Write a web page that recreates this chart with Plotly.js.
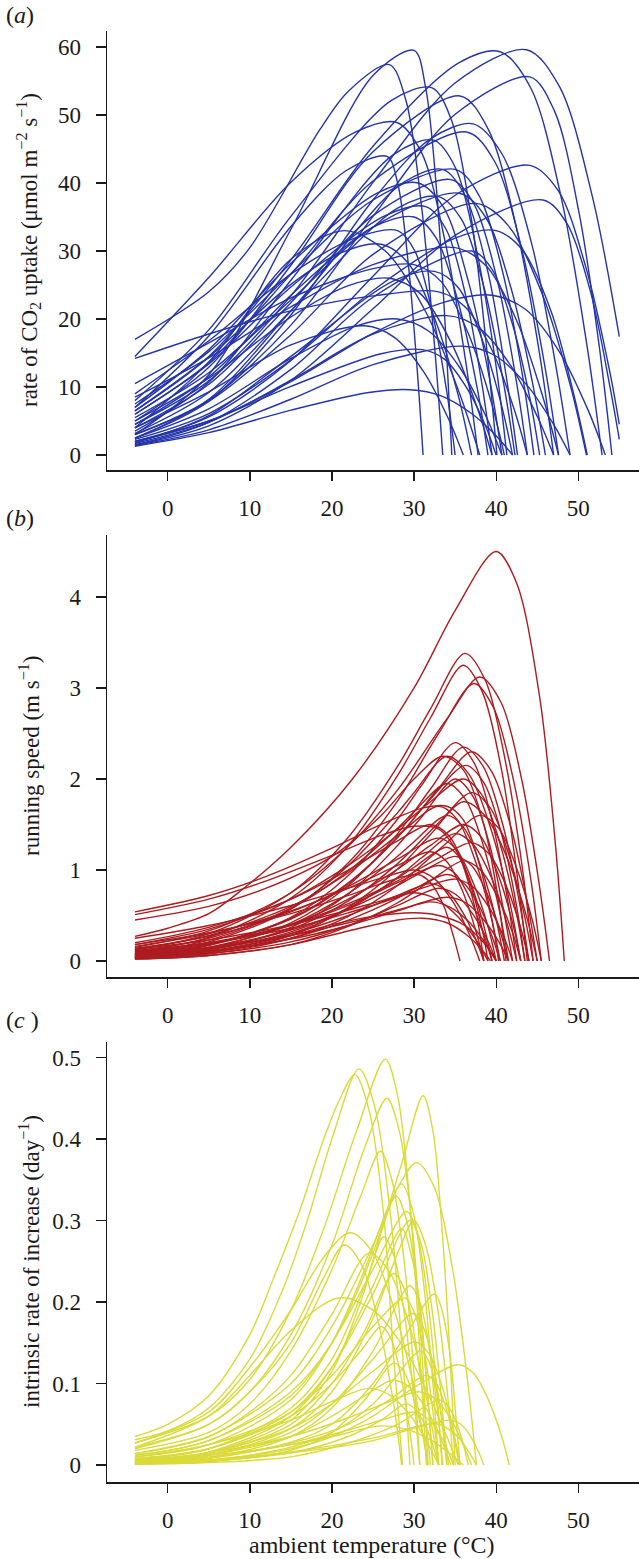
<!DOCTYPE html>
<html>
<head>
<meta charset="utf-8">
<script src="https://cdn.plot.ly/plotly-3.0.1.min.js"></script>
<style>html,body{margin:0;padding:0;background:#fff}#chart{width:639px;height:1559px}</style>
</head>
<body>
<div id="chart"></div>
<script>
// Temperature ticks (°C)
const tempTicks = [0, 10, 20, 30, 40, 50];
const co2Ticks = [0, 10, 20, 30, 40, 50, 60];
const speedTicks = [0, 1, 2, 3, 4];
const rateTicks = [0, 0.1, 0.2, 0.3, 0.4, 0.5];

// (a) rate of CO2 uptake: each curve is a list of [temperature, value]
const co2Uptake = [
  [[-4,3],[5,11.8],[15,33.2],[25,55.8],[30,59.5],[31.4,54.1],[32.8,38.1],[33.9,16.7],[34.6,0]],
  [[-4,17],[5,24],[10,30.5],[18.5,47.8],[22,53.5],[27,57.4],[29,52.2],[30.9,36.7],[32.5,16],[33.5,0]],
  [[-4,6.5],[5,14.5],[15,28.7],[25,45.4],[35.5,57.7],[40.5,59.3],[44.2,54],[47.9,38],[51,16.6],[52.9,0]],
  [[-4,4.5],[5,10.9],[15,23.4],[25,40.1],[35,54.7],[43.7,59.6],[47.7,54.2],[51.7,38.1],[55,17.4]],
  [[-4,3],[5,8.1],[15,19.1],[25,35.1],[35,50.1],[44.1,55.6],[47.1,50.6],[50.1,35.6],[52.6,15.6],[54.1,0]],
  [[-4,8],[5,18.4],[15,35.1],[27.2,52.1],[32.2,54],[34.6,49.1],[37,34.6],[38.9,15.1],[40.1,0]],
  [[-4,5],[5,12.9],[15,27.9],[25,44.6],[35.6,52.8],[39,48],[42.4,33.8],[45.3,14.8],[47,0]],
  [[-4,14.5],[5,26.1],[15,40.1],[22.9,47.5],[27.9,48.9],[30.9,44.5],[33.8,31.3],[36.3,13.7],[37.8,0]],
  [[-4,2.5],[5,7.9],[15,20.6],[25,37.5],[32,46.5],[37.2,48.7],[40.7,44.3],[44.3,31.2],[47.2,13.6],[49,0]],
  [[-4,6],[5,13.6],[15,26.6],[25,40.3],[36.4,47.5],[39.8,43.2],[43.1,30.4],[45.9,13.3],[47.6,0]],
  [[-4,3.5],[5,10.7],[15,25.7],[27.4,44.1],[32.4,46.3],[35.1,42.1],[37.7,29.6],[40,13],[41.3,0]],
  [[-4,7],[5,17.5],[15,33.6],[21.7,41.8],[26.7,43.9],[28,40],[29.3,28.1],[30.4,12.3],[31.1,0]],
  [[-4,2],[5,5.6],[15,13.9],[25,26.3],[35,38.2],[44.1,42.6],[47.6,38.8],[51,27.3],[53.9,11.9],[55,4.5]],
  [[-4,1.5],[5,4.3],[15,11],[25,21.5],[35,32.3],[45.7,37.5],[48.6,34.1],[51.5,24],[53.9,9.8],[55,2.3]],
  [[-4,4],[5,13.7],[15,28.8],[21.5,33],[26.5,30],[31.4,21.1],[35.5,9.2],[38,0]],
  [[-4,2.5],[5,8.2],[15,21.2],[28.5,39.9],[33.5,42],[36.2,38.2],[39,26.9],[41.2,11.8],[42.6,0]],
  [[-4,4],[5,10.4],[15,22.4],[25,35.2],[34.5,40.5],[37.3,36.9],[40.1,25.9],[42.4,11.3],[43.8,0]],
  [[-4,5.5],[5,12.1],[15,22.8],[25,33.5],[35.5,38.5],[38.7,35],[41.8,24.6],[44.4,10.8],[46,0]],
  [[-4,6],[5,13.4],[15,24.7],[26.5,35.2],[31.5,36.5],[33.9,33.2],[36.3,23.4],[38.3,10.2],[39.5,0]],
  [[-4,3],[5,7.9],[15,17.7],[25,29.5],[37.5,37],[41.5,33.7],[45.6,23.7],[49,10.4],[51,0]],
  [[-4,8.5],[5,14.3],[15,21.8],[25,28],[35,30.5],[38.8,27.8],[42.6,19.5],[45.7,8.5],[47.6,0]],
  [[-4,10.5],[5,16.5],[15,23.1],[25,27.4],[30,28],[33.3,25.5],[36.6,17.9],[39.4,7.8],[41,0]],
  [[-4,14.2],[5,17.8],[15,21.2],[25,23.4],[33,24],[36.2,21.8],[39.5,15.4],[42.2,6.7],[43.8,0]],
  [[-4,2.5],[5,6.8],[15,14.2],[23,19],[28,20],[31.8,18.2],[35.6,12.8],[38.8,5.6],[40.7,0]],
  [[-4,1.3],[5,3.3],[15,6.6],[24.5,9.2],[29.5,9.6],[33.3,8.7],[37,6.1],[40.1,2.7],[42,0]],
  [[-4,2],[5,5],[15,10.1],[26,14.9],[31,15.5],[33.7,14.1],[36.4,9.9],[38.7,4.3],[40,0]],
  [[-4,1.8],[5,5.8],[15,14.5],[27.5,25.6],[32.5,27],[35.4,24.6],[38.2,17.3],[40.6,7.6],[42,0]],
  [[-4,1.5],[5,4.8],[15,12.6],[25,23.2],[37,30],[39.5,27.3],[42,19.2],[44.1,8.4],[45.3,0]],
  [[-4,2],[5,5],[15,10.8],[25,17.9],[34,22.6],[39.5,23.5],[43.6,21.4],[47.8,15],[51.2,6.6],[53.3,0]],
  [[-4,2.3],[5,6.1],[15,14],[25,24.2],[35,31.9],[40,33],[43.3,30],[46.7,21.1],[49.4,9.2],[51.1,0]],
  [[-4,4],[5,9.3],[15,16.2],[24,19],[27.6,17.3],[31.2,12.2],[34.2,5.3],[36,0]],
  [[-4,4.5],[5,11.5],[15,23.5],[25,33.5],[30,35],[32.7,31.9],[35.4,22.4],[37.7,9.8],[39,0]],
  [[-4,5],[5,11.3],[15,20.3],[22,24.9],[27,26],[30.8,23.7],[34.5,16.6],[37.6,7.3],[39.5,0]],
  [[-4,6.5],[5,14.4],[15,25.1],[21,29.7],[26,31],[29.3,28.2],[32.6,19.8],[35.4,8.7],[37,0]],
  [[-4,7],[5,15.5],[15,28.2],[25.5,38.5],[30.5,40],[33.6,36.4],[36.6,25.6],[39.2,11.2],[40.7,0]],
  [[-4,3.2],[5,9.2],[15,21.2],[28,36.3],[33,38],[35.8,34.6],[38.6,24.3],[40.9,10.6],[42.3,0]],
  [[-4,1.7],[5,4.8],[15,11],[25,17.8],[34,20.5],[37.9,18.7],[41.8,13.1],[45,5.7],[47,0]],
  [[-4,1.4],[5,3.7],[15,8.2],[25,13.3],[36,16],[39.9,14.6],[43.8,10.2],[47,4.5],[49,0]],
  [[-4,9],[5,16.8],[15,26.6],[23,32],[28,33],[30.1,30],[32.2,21.1],[34,9.2],[35,0]],
  [[-4,7.5],[5,15.2],[15,26.7],[25,37.5],[35,42],[37.9,38.2],[40.8,26.9],[43.2,11.8],[44.6,0]]
];

// (b) running speed (m s-1)
const runningSpeed = [
  [[-4,.27],[0,.36],[5,.52],[9,.78],[15,1.25],[22.5,2.0],[30,3.0],[35,3.85],[40,4.5],[42.5,4.15],[45.3,2.9],[47.2,1.3],[48.3,0]],
  [[-4,.12],[5,.30],[15,.75],[22,1.36],[28,2.14],[32,2.77],[36.2,3.38],[38.7,3.08],[41.2,2.16],[43.3,.95],[44.5,0]],
  [[-4,.1],[5,.26],[15,.69],[22,1.27],[28,2.04],[32,2.67],[36,3.25],[38.3,2.96],[40.7,2.08],[42.6,.91],[43.8,0]],
  [[-4,.15],[5,.33],[15,.75],[22,1.26],[28,1.88],[34,2.66],[38,3.12],[40.6,2.84],[43.1,2.0],[45.2,.87],[46.5,0]],
  [[-4,.08],[5,.21],[15,.57],[22,1.08],[28,1.76],[33,2.5],[37.3,3.05],[39.7,2.78],[42.2,1.95],[44.3,.85],[45.5,0]],
  [[-4,.06],[5,.17],[15,.48],[22,.94],[28,1.56],[31,1.94],[35,2.4],[37.3,2.18],[39.5,1.54],[41.4,.67],[42.5,0]],
  [[-4,.05],[5,.14],[15,.42],[22,.83],[28,1.4],[32,1.89],[36,2.35],[38.4,2.14],[40.8,1.5],[42.8,.66],[44,0]],
  [[-4,.09],[5,.23],[15,.58],[22,1.05],[28,1.63],[30,1.85],[34,2.25],[36.7,2.05],[39.4,1.44],[41.7,.63],[43,0]],
  [[-4,.07],[5,.18],[15,.47],[22,.86],[28,1.36],[32,1.78],[36.3,2.15],[38.5,1.96],[40.7,1.38],[42.5,.6],[43.5,0]],
  [[-4,.04],[5,.12],[15,.37],[22,.74],[28,1.27],[31,1.59],[35,2.0],[37.1,1.82],[39.2,1.28],[40.9,.56],[42,0]],
  [[-4,.11],[5,.25],[15,.58],[22,.99],[28,1.46],[30,1.64],[34,1.95],[36.3,1.77],[38.5,1.25],[40.4,.55],[41.5,0]],
  [[-4,.05],[5,.13],[15,.35],[22,.66],[28,1.07],[33,1.52],[37,1.85],[39.3,1.68],[41.5,1.18],[43.4,.52],[44.5,0]],
  [[-4,.03],[5,.09],[15,.28],[22,.59],[28,1.01],[32,1.39],[36,1.75],[38.7,1.59],[41.4,1.12],[43.7,.49],[45,0]],
  [[-4,.13],[5,.28],[15,.6],[22,.97],[28,1.38],[33,1.7],[35.3,1.55],[37.5,1.09],[39.4,.48],[40.5,0]],
  [[-4,.06],[5,.15],[15,.4],[22,.74],[28,1.15],[30,1.31],[34,1.6],[36.1,1.46],[38.2,1.02],[40,.45],[41,0]],
  [[-4,.2],[5,.37],[15,.68],[22,1.0],[28,1.32],[32,1.5],[34.3,1.37],[36.5,.96],[38.4,.42],[39.5,0]],
  [[-4,.08],[5,.18],[15,.4],[22,.68],[28,1.01],[32,1.27],[36,1.5],[38.1,1.37],[40.2,.96],[42,.42],[43,0]],
  [[-4,.04],[5,.11],[15,.3],[22,.57],[28,.92],[31,1.14],[35,1.4],[37.3,1.27],[39.5,.9],[41.4,.39],[42.5,0]],
  [[-4,.14],[5,.27],[15,.54],[22,.82],[28,1.12],[33,1.35],[35.1,1.23],[37.2,.86],[39,.38],[40,0]],
  [[-4,.1],[5,.2],[15,.4],[22,.63],[28,.88],[33,1.13],[37,1.3],[39.1,1.18],[41.2,.83],[43,.36],[44,0]],
  [[-4,.05],[5,.125],[15,.32],[22,.58],[28,.91],[30,1.03],[34,1.25],[35.5,1.14],[37,.8],[38.3,.35],[39,0]],
  [[-4,.16],[5,.3],[15,.55],[22,.8],[28,1.05],[32,1.2],[34,1.09],[35.9,.77],[37.5,.34],[38.5,0]],
  [[-4,.07],[5,.15],[15,.34],[22,.57],[28,.83],[31,.98],[35,1.15],[37,1.05],[38.9,.74],[40.5,.32],[41.5,0]],
  [[-4,.02],[5,.06],[15,.18],[22,.38],[28,.64],[32,.88],[36,1.1],[38.1,1.0],[40.2,.7],[42,.31],[43,0]],
  [[-4,.09],[5,.19],[15,.39],[22,.61],[28,.86],[33,1.05],[35,.96],[36.9,.67],[38.5,.29],[39.5,0]],
  [[-4,.25],[5,.39],[15,.61],[22,.8],[26,.91],[30,1.0],[32.4,.91],[34.8,.64],[36.8,.28],[38,0]],
  [[-4,.04],[5,.1],[15,.25],[22,.45],[28,.69],[30,.79],[34,.95],[36,.86],[37.9,.61],[39.5,.27],[40.5,0]],
  [[-4,.11],[5,.2],[15,.36],[22,.53],[28,.7],[31,.8],[35,.9],[37.1,.82],[39.2,.58],[41,.25],[42,0]],
  [[-4,.06],[5,.13],[15,.3],[22,.5],[28,.72],[32,.85],[34,.77],[35.9,.54],[37.5,.24],[38.5,0]],
  [[-4,.03],[5,.08],[15,.21],[22,.39],[28,.61],[33,.8],[35.1,.73],[37.2,.51],[39,.22],[40,0]],
  [[-4,.13],[5,.23],[15,.4],[22,.56],[26,.66],[30,.75],[32.7,.68],[35.4,.48],[37.7,.21],[39,0]],
  [[-4,.08],[5,.15],[15,.28],[22,.42],[28,.56],[34,.7],[36.3,.64],[38.5,.45],[40.4,.2],[41.5,0]],
  [[-4,.05],[5,.11],[15,.24],[22,.39],[28,.55],[32,.65],[34.4,.59],[36.8,.42],[38.8,.18],[40,0]],
  [[-4,.18],[5,.31],[15,.52],[22,.72],[26,.85],[30.5,.95],[32,.86],[33.6,.61],[34.8,.27],[35.6,0]],
  [[-4,.03],[5,.1],[15,.28],[20,.4],[25,.49],[30,.53],[33,.5],[36,.4],[38.5,.2],[40,0]],
  [[-4,.54],[5,.72],[12,.93],[20,1.24],[26,1.5],[31,1.68],[34,1.7],[36,1.55],[38,1.05],[39.5,.45],[40.3,0]],
  [[-4,.51],[5,.68],[12,.88],[20,1.16],[26,1.38],[30,1.48],[33,1.45],[35.5,1.15],[37.5,.55],[38.5,0]],
  [[-4,.45],[5,.6],[12,.8],[20,1.15],[26,1.6],[30,2.0],[33.5,2.25],[36,2.1],[38.5,1.5],[40.3,.65],[41.2,0]],
  [[-4,.02],[5,.06],[15,.18],[22,.33],[28,.45],[31,.47],[34,.42],[36.5,.28],[38.5,.1],[39.3,0]],
  [[-4,.18],[5,.35],[15,.68],[22,1.05],[28,1.45],[32,1.75],[36,2.0],[38.3,1.82],[40.5,1.28],[42.4,.56],[43.5,0]],
  [[-4,.03],[5,.08],[15,.25],[22,.49],[28,.83],[34,1.3],[38,1.6],[40.3,1.46],[42.5,1.02],[44.4,.45],[45.5,0]],
  [[-4,.07],[5,.18],[15,.46],[22,.85],[28,1.36],[33,1.9],[37,2.3],[39.4,2.09],[41.8,1.47],[43.8,.64],[45,0]]
];

// (c) intrinsic rate of increase (day-1)
const growthRate = [
  [[-4,.035],[0,.05],[5,.085],[10,.16],[12.8,.227],[16,.31],[19,.4],[21,.45],[22.8,.479],[24.5,.436],[26.3,.307],[27.5,.134],[28.6,0]],
  [[-4,.031],[0,.042],[5,.07],[10,.13],[14,.215],[17,.3],[20,.4],[23.3,.486],[25.2,.44],[27.1,.31],[28.6,.136],[29.5,0]],
  [[-4,.027],[5,.06],[10,.105],[15,.19],[19,.29],[23,.41],[26.5,.498],[28,.453],[29.5,.32],[30.7,.14],[31.5,0]],
  [[-4,.012],[5,.03],[15,.09],[20,.15],[25,.26],[28.5,.37],[31.1,.453],[32.3,.41],[33.4,.29],[34.4,.13],[35,0]],
  [[-4,.022],[5,.05],[10,.09],[15,.16],[20,.27],[24,.39],[26.7,.45],[28.2,.41],[29.8,.29],[31,.13],[31.7,0]],
  [[-4,.018],[5,.04],[10,.075],[15,.14],[20,.24],[23.5,.33],[25.9,.385],[27.3,.35],[28.8,.25],[30,.11],[30.7,0]],
  [[-4,.014],[5,.035],[15,.1],[20,.17],[25,.27],[28,.34],[30.3,.371],[32.5,.34],[34.7,.24],[36.5,.105],[37.6,0]],
  [[-4,.01],[5,.025],[15,.08],[20,.15],[24,.24],[27,.32],[28.5,.345],[29.9,.31],[31.2,.22],[32.3,.1],[33,0]],
  [[-4,.012],[5,.03],[15,.085],[20,.15],[25,.24],[29.1,.311],[30.4,.283],[31.7,.2],[32.8,.087],[33.4,0]],
  [[-4,.008],[5,.02],[15,.065],[20,.12],[25,.21],[29.5,.30],[30.9,.27],[32.2,.19],[33.3,.085],[34,0]],
  [[-4,.006],[5,.016],[15,.06],[20,.12],[25,.22],[28.5,.29],[29.6,.26],[30.8,.19],[31.7,.08],[32.3,0]],
  [[-4,.027],[5,.065],[10,.12],[15,.19],[19,.255],[22.2,.285],[25,.26],[27.9,.18],[30.3,.08],[31.7,0]],
  [[-4,.006],[5,.015],[15,.055],[20,.115],[23.5,.2],[26.3,.28],[27.6,.255],[28.9,.18],[30,.08],[30.7,0]],
  [[-4,.004],[5,.012],[15,.045],[20,.09],[25,.18],[28,.26],[30,.30],[31.4,.27],[32.9,.19],[34.1,.085],[34.8,0]],
  [[-4,.022],[5,.06],[10,.11],[15,.165],[20.8,.205],[25,.19],[29,.14],[32.5,.07],[35.4,0]],
  [[-4,.01],[5,.025],[15,.065],[20,.11],[25,.17],[28.9,.205],[30.1,.185],[31.4,.13],[32.4,.057],[33,0]],
  [[-4,.004],[5,.012],[15,.04],[20,.075],[25,.13],[29.9,.186],[31.1,.17],[32.4,.12],[33.4,.052],[34,0]],
  [[-4,.006],[5,.015],[15,.045],[20,.075],[25,.115],[30.1,.151],[31.8,.137],[33.4,.097],[34.8,.042],[35.6,0]],
  [[-4,.002],[5,.006],[15,.02],[20,.035],[25,.06],[30,.095],[35.4,.123],[37.3,.112],[39.1,.079],[40.7,.034],[41.6,0]],
  [[-4,.004],[5,.012],[15,.035],[20,.06],[24,.085],[27.4,.104],[29.5,.095],[31.6,.067],[33.4,.029],[34.5,0]],
  [[-4,.01],[5,.025],[15,.055],[20,.078],[24.5,.094],[27,.086],[29.6,.06],[31.7,.026],[33,0]],
  [[-4,.002],[5,.006],[15,.015],[25,.03],[30,.045],[34.5,.055],[35.7,.05],[36.9,.035],[37.9,.015],[38.5,0]],
  [[-4,.002],[5,.006],[15,.016],[25,.033],[32.4,.051],[33.9,.046],[35.5,.033],[36.8,.014],[37.6,0]],
  [[-4,.006],[5,.015],[15,.035],[22,.058],[27,.078],[30.5,.09],[32.5,.082],[34.4,.058],[36,.025],[37,0]],
  [[-4,.003],[5,.009],[15,.027],[22,.05],[27,.08],[31.5,.11],[32.7,.1],[33.9,.07],[34.9,.031],[35.5,0]],
  [[-4,.014],[5,.035],[10,.065],[15,.11],[20,.185],[24.5,.26],[27,.237],[29.6,.166],[31.7,.073],[33,0]],
  [[-4,.005],[5,.014],[15,.05],[20,.1],[24,.165],[27.5,.235],[28.9,.214],[30.2,.15],[31.3,.066],[32,0]],
  [[-4,.003],[5,.009],[15,.035],[20,.07],[25,.14],[29.5,.22],[30.7,.2],[31.9,.14],[32.9,.062],[33.5,0]],
  [[-4,.008],[5,.02],[15,.06],[20,.1],[23.5,.14],[26,.17],[27.2,.155],[28.4,.109],[29.4,.048],[30,0]],
  [[-4,.002],[5,.006],[15,.022],[20,.04],[25,.075],[30.8,.14],[31.8,.127],[32.8,.09],[33.7,.039],[34.2,0]],
  [[-4,.003],[5,.008],[15,.028],[20,.05],[25,.1],[29,.16],[32.5,.21],[33.4,.19],[34.4,.134],[35.1,.059],[35.6,0]],
  [[-4,.001],[5,.004],[15,.018],[20,.04],[24,.08],[27.5,.125],[28.8,.114],[30,.08],[31.1,.035],[31.7,0]],
  [[-4,.002],[5,.005],[15,.015],[22,.035],[26,.055],[29,.075],[30.2,.068],[31.4,.048],[32.4,.021],[33,0]],
  [[-4,.004],[5,.01],[15,.025],[22,.043],[26,.055],[30,.065],[31.4,.059],[32.9,.042],[34.1,.018],[34.8,0]],
  [[-4,.007],[5,.02],[15,.07],[20,.13],[24,.22],[27.8,.33],[29.1,.3],[30.5,.21],[31.6,.092],[32.3,0]],
  [[-4,.02],[5,.05],[10,.09],[15,.15],[19,.23],[21.5,.27],[23.6,.246],[25.7,.173],[27.5,.076],[28.5,0]],
  [[-4,.006],[5,.012],[15,.025],[20,.035],[26,.048],[29,.044],[32,.031],[34.5,.013],[36,0]],
  [[-4,.001],[5,.003],[15,.01],[22,.027],[28,.05],[33,.08],[34.1,.073],[35.2,.051],[36.1,.022],[36.6,0]]
];

const panels = [
  {curves: co2Uptake, color: '#2434aa', xa: 'x', ya: 'y'},
  {curves: runningSpeed, color: '#ac1c20', xa: 'x2', ya: 'y2'},
  {curves: growthRate, color: '#dada3a', xa: 'x3', ya: 'y3'}
];

const traces = [];
panels.forEach(p => {
  p.curves.forEach(c => {
    traces.push({
      type: 'scatter', mode: 'lines',
      x: c.map(pt => pt[0]), y: c.map(pt => pt[1]),
      xaxis: p.xa, yaxis: p.ya,
      line: {color: p.color, width: 1.4, shape: 'spline', smoothing: 0.9},
      hoverinfo: 'skip'
    });
  });
});

const FONT = 'Liberation Serif, Times New Roman, serif';
const INK = '#1a1a1a';

function xAxis(anchor) {
  return {
    anchor: anchor, domain: [0, 1], range: [-7.4, 57.4],
    tickmode: 'array', tickvals: tempTicks, ticktext: tempTicks.map(String),
    ticks: 'outside', ticklen: 9, tickwidth: 1.3, tickcolor: INK,
    showline: true, linecolor: INK, linewidth: 1.5,
    showgrid: false, zeroline: false, ticklabelstandoff: 8,
    tickfont: {family: FONT, size: 23, color: INK}
  };
}
function yAxis(anchor, domain, range, vals) {
  return {
    anchor: anchor, domain: domain, range: range,
    tickmode: 'array', tickvals: vals, ticktext: vals.map(String),
    ticks: 'outside', ticklen: 10, tickwidth: 1.3, tickcolor: INK,
    showline: true, linecolor: INK, linewidth: 1.5,
    showgrid: false, zeroline: false, ticklabelstandoff: 10,
    tickfont: {family: FONT, size: 23, color: INK}
  };
}

const H = 1559, L = 107, W = 532;
const px = v => (v - L) / W;
const py = v => 1 - v / H;

const layout = {
  width: 639, height: 1559,
  margin: {l: L, r: 0, t: 0, b: 0},
  paper_bgcolor: '#fff', plot_bgcolor: '#fff',
  showlegend: false,
  font: {family: FONT, color: INK},
  xaxis: xAxis('y'),
  xaxis2: xAxis('y2'),
  xaxis3: xAxis('y3'),
  yaxis: yAxis('x', [py(470), py(31)], [-2.2, 62.35], co2Ticks),
  yaxis2: yAxis('x2', [py(977), py(535)], [-0.176, 4.681], speedTicks),
  yaxis3: yAxis('x3', [py(1482), py(1042)], [-0.0208, 0.519], rateTicks),
  annotations: [
    {text: '(<i>a</i>)', xref: 'paper', yref: 'paper', x: px(4), y: py(15), xanchor: 'left', yanchor: 'middle', showarrow: false, font: {family: FONT, size: 24, color: INK}},
    {text: '(<i>b</i>)', xref: 'paper', yref: 'paper', x: px(4), y: py(518), xanchor: 'left', yanchor: 'middle', showarrow: false, font: {family: FONT, size: 24, color: INK}},
    {text: '(<i>c</i> )', xref: 'paper', yref: 'paper', x: px(4), y: py(1020), xanchor: 'left', yanchor: 'middle', showarrow: false, font: {family: FONT, size: 24, color: INK}},
    {text: 'rate of CO<sub>2</sub> uptake (μmol m<sup>−2</sup> s<sup>−1</sup>)', xref: 'paper', yref: 'paper', x: px(29), y: py(250), xanchor: 'center', yanchor: 'middle', textangle: -90, showarrow: false, font: {family: FONT, size: 23, color: INK}},
    {text: 'running speed (m s<sup>−1</sup>)', xref: 'paper', yref: 'paper', x: px(29), y: py(756), xanchor: 'center', yanchor: 'middle', textangle: -90, showarrow: false, font: {family: FONT, size: 23, color: INK}},
    {text: 'intrinsic rate of increase (day<sup>−1</sup>)', xref: 'paper', yref: 'paper', x: px(29), y: py(1262), xanchor: 'center', yanchor: 'middle', textangle: -90, showarrow: false, font: {family: FONT, size: 23, color: INK}},
    {text: 'ambient temperature (°C)', xref: 'paper', yref: 'paper', x: px(372), y: py(1545), xanchor: 'center', yanchor: 'middle', showarrow: false, font: {family: FONT, size: 24, color: INK}}
  ]
};

Plotly.newPlot('chart', traces, layout, {staticPlot: true, displayModeBar: false});
</script>
</body>
</html>
